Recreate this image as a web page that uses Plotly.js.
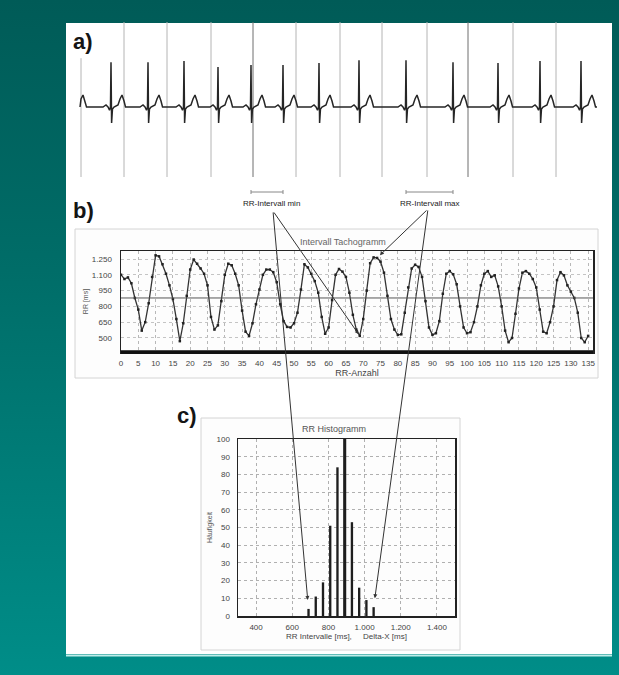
<!DOCTYPE html>
<html><head><meta charset="utf-8">
<script src="https://cdn.plot.ly/plotly-3.0.1.min.js"></script>
<style>
html,body{margin:0;padding:0;}
body{width:619px;height:675px;overflow:hidden;background:linear-gradient(to bottom,#005b57 0%,#006d68 40%,#008d88 100%);}
#chart{width:619px;height:675px;}
</style></head><body><div id="chart"></div>
<script>
// ---------- data ----------
// a) ECG: R-peak times [ms], R amplitudes [mV], one beat's shape (offset from R [ms], amplitude [mV])
const rPeakTimes = [-120, 465, 1020, 1560, 2070, 2565, 3045, 3585, 4185, 4890, 5595, 6270, 6900, 7515];
const rPeakAmps  = [1.10, 1.12, 1.12, 1.15, 1.00, 1.05, 1.05, 1.10, 1.17, 1.17, 1.12, 1.10, 1.15, 1.15];
const beatOffsets = [-120, -75, -45, -22, -8, 0, 9, 22, 45, 105, 135, 165, 195, 218];
const beatShape   = [0, 0.05, 0, -0.08, 0, null, -0.40, -0.05, 0, 0.05, 0.20, 0.30, 0.15, 0];
const ecgStart = 0, ecgEnd = 7755;
// marker lines of the ECG strip [ms] and their top [mV]
const markerTimes = [15, 660, 1305, 1965, 2595, 3240, 3900, 4530, 5205, 5820, 6495, 7140];
const markerTops  = [1.22, 2.2, 2.2, 2.2, 2.2, 2.2, 2.2, 2.2, 2.2, 2.2, 2.2, 2.2];
const markerDark  = [false, false, false, false, true, false, false, false, false, true, false, false];

// b) Intervall Tachogramm: RR [ms] per beat number 0..135
const tachoValues = [
 1100,1060,1075,1020,880,770,570,650,830,1080,
 1285,1275,1200,1110,1000,870,680,470,640,900,
 1150,1245,1205,1160,1110,1000,700,580,620,850,
 1100,1205,1190,1110,1000,760,560,520,640,820,
 960,1100,1150,1150,1125,1030,820,660,605,600,
 640,740,960,1200,1170,1110,1040,930,700,540,
 600,860,1100,1155,1130,1080,930,720,580,520,
 680,950,1210,1265,1260,1225,1120,900,680,580,
 530,535,740,980,1160,1195,1175,1080,850,600,
 530,545,660,920,1110,1135,1105,1010,800,600,
 545,555,650,800,1000,1110,1135,1080,1095,990,
 800,570,460,500,730,970,1120,1135,1110,1060,
 980,770,560,545,650,800,1050,1125,1095,1000,
 940,880,740,500,460,520];
const tachoMean = 880;
const tachoYTicks = [500, 650, 800, 950, 1100, 1250];
const tachoYTickText = ['500', '650', '800', '950', '1.100', '1.250'];

// c) RR Histogramm
const histBins   = [690, 730, 770, 810, 850, 890, 930, 970, 1010, 1050];
const histCounts = [4, 11, 19, 51, 84, 100, 53, 16, 9, 5];
const histXTicks = [400, 600, 800, 1000, 1200, 1400];
const histXTickText = ['400', '600', '800', '1.000', '1.200', '1.400'];

// ---------- build ----------
const W = 619, H = 675;
const fx = v => v / W, fy = v => 1 - v / H;
const FONT = 'Liberation Sans, Arial, sans-serif';

const ecgX = [ecgStart], ecgY = [0];
rPeakTimes.forEach((r, k) => {
  beatOffsets.forEach((o, i) => {
    const t = r + o;
    if (t > ecgStart && t < ecgEnd) {
      ecgX.push(t);
      ecgY.push(beatShape[i] === null ? rPeakAmps[k] : beatShape[i]);
    }
  });
});
ecgX.push(ecgEnd); ecgY.push(0);

function markerTrace(dark) {
  const x = [], y = [];
  markerTimes.forEach((t, i) => {
    if (markerDark[i] === dark) { x.push(t, t, null); y.push(-1.75, markerTops[i], null); }
  });
  return {type: 'scatter', mode: 'lines', x, y, xaxis: 'x', yaxis: 'y',
    line: {color: dark ? '#6e6e6e' : '#b4b4b4', width: 1}, hoverinfo: 'skip'};
}

const data = [
  markerTrace(false), markerTrace(true),
  {type: 'scatter', mode: 'lines', x: ecgX, y: ecgY, xaxis: 'x', yaxis: 'y',
   line: {color: '#262626', width: 1.5}, hoverinfo: 'skip'},
  {type: 'scatter', mode: 'lines+markers', x: tachoValues.map((v, i) => i), y: tachoValues,
   xaxis: 'x2', yaxis: 'y2', line: {color: '#333', width: 1.3},
   marker: {color: '#222', size: 2.5, symbol: 'square'}, hoverinfo: 'skip'},
  {type: 'bar', x: histBins, y: histCounts, xaxis: 'x3', yaxis: 'y3',
   width: histBins.map((b, i) => histCounts[i] === Math.max(...histCounts) ? 17 : 13),
   marker: {color: '#1e1e1e', line: {width: 0}}, hoverinfo: 'skip'}
];

const tickFont = {family: FONT, size: 8, color: '#444'};
const layout = {
  width: W, height: H, margin: {l: 0, r: 0, t: 0, b: 0},
  paper_bgcolor: 'rgba(0,0,0,0)', plot_bgcolor: 'rgba(0,0,0,0)',
  showlegend: false, font: {family: FONT},
  xaxis: {domain: [fx(66), fx(612)], range: [-210, 7980], visible: false, anchor: 'y'},
  yaxis: {domain: [fy(177), fy(22)], range: [-1.75, 2.125], visible: false, anchor: 'x'},
  xaxis2: {domain: [fx(121), fx(593)], range: [0, 136.4], anchor: 'y2',
    tickmode: 'linear', tick0: 0, dtick: 5, ticks: '', ticklabelstandoff: 3, tickfont: tickFont,
    showgrid: true, gridcolor: '#b8b8b8', griddash: 'dot', gridwidth: 1, zeroline: false,
    showline: true, mirror: true, linecolor: '#222', linewidth: 1.5,
    title: {text: 'RR-Anzahl', font: {family: FONT, size: 9, color: '#444'}, standoff: 1}},
  yaxis2: {domain: [fy(352), fy(251)], range: [367, 1326], anchor: 'x2',
    tickmode: 'array', tickvals: tachoYTicks, ticktext: tachoYTickText, ticks: '', ticklabelstandoff: 6,
    tickfont: tickFont, showgrid: true, gridcolor: '#c4c4c4', griddash: 'dot', zeroline: false,
    showline: true, mirror: true, linecolor: '#222', linewidth: 1.5,
    title: {text: 'RR [ms]', font: {family: FONT, size: 7, color: '#555'}, standoff: 2}},
  xaxis3: {domain: [fx(238), fx(455)], range: [300, 1500], anchor: 'y3',
    tickmode: 'array', tickvals: histXTicks, ticktext: histXTickText, ticks: '', ticklabelstandoff: 3,
    tickfont: tickFont, showgrid: true, gridcolor: '#b0b0b0', griddash: 'dot', zeroline: false,
    showline: true, mirror: true, linecolor: '#222', linewidth: 1.5,
    title: {text: 'RR Intervalle [ms],     Delta-X [ms]', font: {family: FONT, size: 8, color: '#444'}, standoff: 1}},
  yaxis3: {domain: [fy(616), fy(439)], range: [0, 100], anchor: 'x3',
    tickmode: 'linear', tick0: 0, dtick: 10, ticks: '', ticklabelstandoff: 5, tickfont: tickFont,
    showgrid: true, gridcolor: '#b0b0b0', griddash: 'dot', zeroline: false,
    showline: true, mirror: true, linecolor: '#222', linewidth: 1.5,
    title: {text: 'Häufigkeit', font: {family: FONT, size: 7, color: '#555'}, standoff: 3}},
  shapes: [
    {type: 'rect', xref: 'paper', yref: 'paper', x0: fx(66), x1: fx(612), y0: fy(654), y1: fy(23),
     fillcolor: '#ffffff', line: {width: 0}, layer: 'below'},
    {type: 'line', xref: 'paper', yref: 'paper', x0: fx(66), x1: fx(612), y0: fy(655.5), y1: fy(655.5),
     line: {color: '#bfeeea', width: 2}, layer: 'below'},
    {type: 'rect', xref: 'paper', yref: 'paper', x0: fx(75), x1: fx(598), y0: fy(378), y1: fy(229),
     fillcolor: '#fdfdfd', line: {color: '#d4d4d4', width: 1}, layer: 'below'},
    {type: 'rect', xref: 'paper', yref: 'paper', x0: fx(201), x1: fx(460), y0: fy(650), y1: fy(418),
     fillcolor: '#fdfdfd', line: {color: '#d4d4d4', width: 1}, layer: 'below'},
    {type: 'line', xref: 'x2 domain', yref: 'y2 domain', x0: 0, x1: 1, y0: 0, y1: 0,
     line: {color: '#111', width: 3.5}},
    {type: 'line', xref: 'x2 domain', yref: 'y2', x0: 0, x1: 1, y0: tachoMean, y1: tachoMean,
     line: {color: '#555', width: 1}},
    // RR-interval min / max brackets, spanning the R peaks
    {type: 'line', xref: 'x', yref: 'paper', x0: rPeakTimes[5], x1: rPeakTimes[6], y0: fy(192), y1: fy(192), line: {color: '#888', width: 1}},
    {type: 'line', xref: 'x', yref: 'paper', x0: rPeakTimes[5], x1: rPeakTimes[5], y0: fy(190), y1: fy(194), line: {color: '#888', width: 1}},
    {type: 'line', xref: 'x', yref: 'paper', x0: rPeakTimes[6], x1: rPeakTimes[6], y0: fy(190), y1: fy(194), line: {color: '#888', width: 1}},
    {type: 'line', xref: 'x', yref: 'paper', x0: rPeakTimes[9], x1: rPeakTimes[10], y0: fy(192), y1: fy(192), line: {color: '#888', width: 1}},
    {type: 'line', xref: 'x', yref: 'paper', x0: rPeakTimes[9], x1: rPeakTimes[9], y0: fy(190), y1: fy(194), line: {color: '#888', width: 1}},
    {type: 'line', xref: 'x', yref: 'paper', x0: rPeakTimes[10], x1: rPeakTimes[10], y0: fy(190), y1: fy(194), line: {color: '#888', width: 1}}
  ],
  annotations: []
};

const ann = (text, x, y, opts) => Object.assign({text, xref: 'paper', yref: 'paper', x: fx(x), y: fy(y),
  showarrow: false, xanchor: 'center', yanchor: 'middle'}, opts || {});
const baseAnn = [
  ann('<b>a)</b>', 71, 42, {xanchor: 'left', font: {family: FONT, size: 22, color: '#151515'}}),
  ann('<b>b)</b>', 71, 210, {xanchor: 'left', font: {family: FONT, size: 22, color: '#151515'}}),
  ann('<b>c)</b>', 175, 415, {xanchor: 'left', font: {family: FONT, size: 22, color: '#151515'}}),
  ann('RR-Intervall min', 271, 203, {font: {family: FONT, size: 8, color: '#222'}}),
  ann('RR-Intervall max', 430, 203, {font: {family: FONT, size: 8, color: '#222'}}),
  ann('Intervall Tachogramm', 343, 242, {font: {family: FONT, size: 9, color: '#666'}}),
  ann('RR Histogramm', 334, 429, {font: {family: FONT, size: 9, color: '#555'}})
];
layout.annotations = baseAnn;

// pointer lines from the labels to the marked RR intervals
const minTail = [273, 211], maxTail = [428, 209];
const pointers = [
  {sub: '3', x: histBins[0], y: histCounts[0], tail: minTail, standoff: 9},
  {sub: '2', x: 69, y: tachoValues[69], tail: minTail, standoff: 2},
  {sub: '2', x: 74, y: tachoValues[74], tail: maxTail, standoff: 4},
  {sub: '3', x: histBins[9], y: histCounts[9], tail: maxTail, standoff: 9}
];

const gd = document.getElementById('chart');
Plotly.newPlot(gd, data, layout, {staticPlot: true, displayModeBar: false}).then(() => {
  const fl = gd._fullLayout;
  const arrows = pointers.map(p => {
    const xa = fl['xaxis' + p.sub], ya = fl['yaxis' + p.sub];
    const hx = xa._offset + xa.l2p(p.x), hy = ya._offset + ya.l2p(p.y);
    return {text: '', xref: 'x' + p.sub, yref: 'y' + p.sub, x: p.x, y: p.y,
      axref: 'pixel', ayref: 'pixel', ax: p.tail[0] - hx, ay: p.tail[1] - hy,
      showarrow: true, arrowhead: 2, arrowsize: 0.8, arrowwidth: 1, arrowcolor: '#333', standoff: p.standoff};
  });
  return Plotly.relayout(gd, {annotations: baseAnn.concat(arrows)});
});
</script></body></html>
